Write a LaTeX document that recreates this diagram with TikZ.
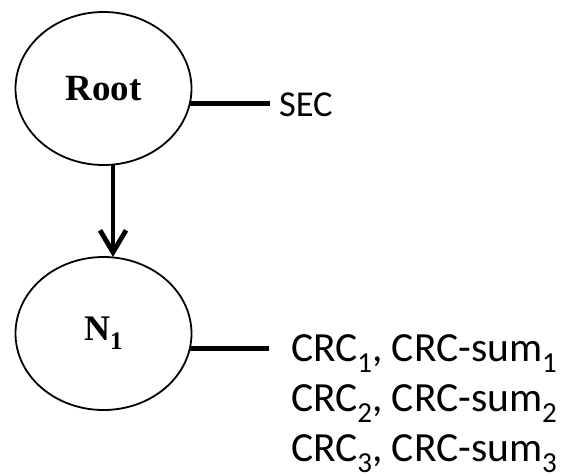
\documentclass[tikz,border=0pt]{standalone}
\usepackage{fontspec}
\usepackage{graphicx}
\setmainfont{Liberation Serif}
\newfontfamily\calibri{Carlito}
\usetikzlibrary{arrows.meta,positioning,shapes.geometric}
\newcommand{\idx}[1]{\raisebox{-0.26em}{\scalebox{0.7}{#1}}}

\begin{document}
\begin{tikzpicture}[x=1pt, y=1pt,
  every node/.style={inner sep=0pt, outer sep=0pt},
  treenode/.style={ellipse, draw, line width=1.8pt, minimum width=176pt, minimum height=153pt},
  link/.style={line width=4.8pt},
  infotext/.style={anchor=base west, font=\calibri\fontsize{41.5}{50}\selectfont}]
\useasboundingbox (0,0) rectangle (569,-475);

\node[treenode, font=\fontsize{37}{37}\selectfont\bfseries] (root) at (103.5,-88.5) {Root};
\node[treenode, font=\fontsize{36}{36}\selectfont\bfseries] (n1) at (103.5,-333.5) {N\idx{1}};

\node[infotext, font=\calibri\fontsize{36.5}{40}\selectfont] (sec) at (279,-116.5) {SEC};
\node[infotext] (crc1) at (291,-361.5) {CRC\idx{1}, CRC-sum\idx{1}};
\node[infotext] (crc2) at (291,-411.5) {CRC\idx{2}, CRC-sum\idx{2}};
\node[infotext] (crc3) at (291,-461.5) {CRC\idx{3}, CRC-sum\idx{3}};

\draw[link, -{Straight Barb[length=22pt, width=26pt]}] ([xshift=9.5pt]root.south) -- ([xshift=9.5pt]n1.north);
\draw[link] (root.-10) -- ([xshift=-9pt]root.-10 -| sec.west);
\draw[link] (n1.-10) -- ([xshift=-22pt]n1.-10 -| crc1.west);
\end{tikzpicture}
\end{document}
